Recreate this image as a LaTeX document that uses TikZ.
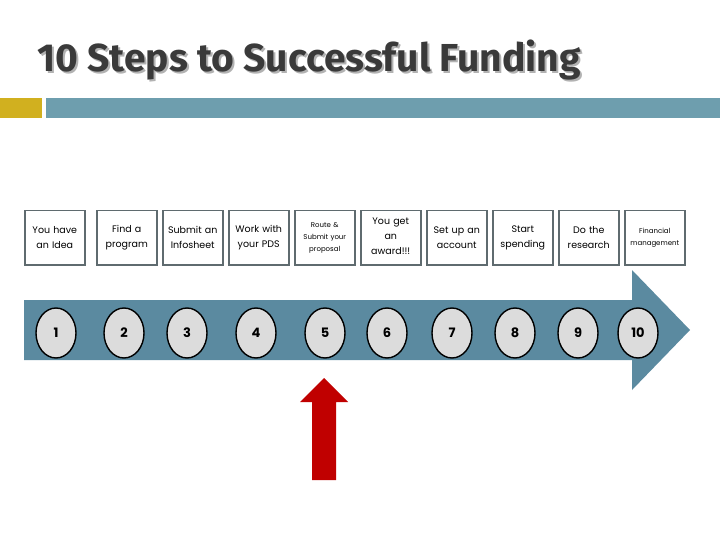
\documentclass[tikz,border=0pt]{standalone}
\usepackage{fontspec}
\usetikzlibrary{shapes.geometric}
\setmainfont{Poppins}
\newfontfamily\titlefont{Fira Sans}
\definecolor{band}{HTML}{5B8AA0}
\definecolor{teal}{HTML}{6E9EAE}
\definecolor{gold}{HTML}{D1B01F}
\definecolor{boxline}{HTML}{5F6B6F}
\definecolor{circ}{HTML}{DCDCDC}
\definecolor{redar}{HTML}{C00000}
\definecolor{titlec}{HTML}{3A3A3A}
\begin{document}
\begin{tikzpicture}[x=1pt,y=-1pt,
  stepbox/.style={draw=boxline,line width=1.5pt,minimum width=60pt,minimum height=54pt,anchor=north west,inner sep=1pt,align=center,text=black,font=\fontsize{9.5}{15}\selectfont,text width=58pt},
  smallbox/.style={stepbox,font=\fontsize{7}{12}\selectfont},
  num/.style={ellipse,draw=black,line width=1.4pt,fill=circ,minimum width=40pt,minimum height=50pt,inner sep=0pt,font=\bfseries\fontsize{13}{13}\selectfont},
  ttl/.style={anchor=west,font=\titlefont\bfseries\fontsize{39}{42}\selectfont}]
\useasboundingbox[fill=white] (0,0) rectangle (720,540);
\node[ttl,text=gray!60] at (36,62) {10 Steps to Successful Funding};
\node[ttl,text=titlec] (title) at (34,60) {10 Steps to Successful Funding};
\fill[gold] (0,98) rectangle (42,118);
\fill[teal] (46,98) rectangle (720,118);
\fill[band] (24,300) -- (632,300) -- (632,270) -- (690,330) -- (632,390) -- (632,360) -- (24,360) -- cycle;
\node[stepbox] (b1) at (24,210) {You have\\an Idea};
\node[stepbox] (b2) at (96,210) {Find a\\program};
\node[stepbox] (b3) at (162,210) {Submit an\\Infosheet};
\node[stepbox] (b4) at (228,210) {Work with\\your PDS};
\node[smallbox] (b5) at (294,210) {Route \&\\Submit your\\proposal};
\node[stepbox,text height=4pt] (b6) at (360,210) {You get\\an\\award!!!};
\node[stepbox] (b7) at (426,210) {Set up an\\account};
\node[stepbox] (b8) at (492,210) {Start\\spending};
\node[stepbox] (b9) at (558,210) {Do the\\research};
\node[smallbox] (b10) at (624,210) {Financial\\management};
\foreach \n/\x in {1/56,2/124,3/187,4/256,5/325,6/387,7/452,8/515,9/578,10/638}
  \node[num] (c\n) at (\x,333) {\n};
\fill[redar] (312,480) -- (312,402) -- (300,402) -- (324,378) -- (348,402) -- (336,402) -- (336,480) -- cycle;
\end{tikzpicture}
\end{document}
